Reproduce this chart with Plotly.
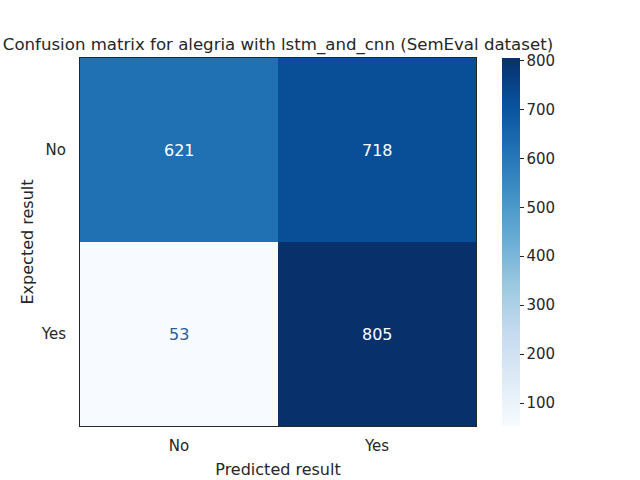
import plotly.graph_objects as go

# Confusion matrix values (rows = expected, columns = predicted)
labels = ["No", "Yes"]
matrix = [[621, 718],
          [53, 805]]
cbar_ticks = [100, 200, 300, 400, 500, 600, 700, 800]

blues = [
    [0.0, "#f7fbff"], [0.125, "#deebf7"], [0.25, "#c6dbef"],
    [0.375, "#9ecae1"], [0.5, "#6baed6"], [0.625, "#4292c6"],
    [0.75, "#2171b5"], [0.875, "#08519c"], [1.0, "#08306b"],
]

zmin = min(min(r) for r in matrix)
zmax = max(max(r) for r in matrix)
thresh = (zmin + zmax) / 2

font = "DejaVu Sans, sans-serif"
text_col = "#262626"

W, H = 640, 480

fig = go.Figure()
fig.add_trace(go.Heatmap(
    z=matrix, x=labels, y=labels,
    colorscale=blues, zmin=zmin, zmax=zmax,
    showscale=True,
    colorbar=dict(
        thickness=18, len=1, lenmode="fraction", y=0, yanchor="bottom",
        x=1, xanchor="left", xpad=26, ypad=0, outlinewidth=0,
        tickvals=cbar_ticks, ticks="outside", ticklen=4, tickwidth=1,
        tickcolor=text_col, tickfont=dict(family=font, size=15, color=text_col),
    ),
))

# cell annotations: white on dark, dark blue on light cells
for i, row in enumerate(matrix):
    for j, v in enumerate(row):
        fig.add_annotation(
            x=labels[j], y=labels[i], text=str(v), showarrow=False,
            font=dict(family=font, size=16,
                      color="white" if v > thresh else "#2f5a9c"),
        )

fig.update_layout(
    width=W, height=H,
    margin=dict(l=80, r=164, t=58, b=54, autoexpand=False),
    paper_bgcolor="white", plot_bgcolor="white",
    font=dict(family=font, color=text_col),
    title=dict(text="Confusion matrix for alegria with lstm_and_cnn (SemEval dataset)",
               x=0.5, xref="paper", xanchor="center",
               y=1 - 44 / H, yref="container", yanchor="middle",
               font=dict(family=font, size=16.6, color=text_col)),
)
fig.update_xaxes(
    title=dict(text="Predicted result", font=dict(size=16), standoff=9),
    tickfont=dict(size=15), showline=True, mirror=True, automargin=False,
    linecolor=text_col, linewidth=1, ticks="", showgrid=False,
    ticklabelstandoff=6,
)
fig.update_yaxes(
    title=dict(text="Expected result", font=dict(size=16), standoff=3),
    tickfont=dict(size=15), autorange="reversed", showline=True, mirror=True,
    automargin=False, linecolor=text_col, linewidth=1, ticks="", showgrid=False,
    ticklabelstandoff=10,
)

# drop the default 8px page margin so the figure fills the window
fig.write_html("out.html", config={"displayModeBar": False},
               post_script="document.body.style.margin='0';")
